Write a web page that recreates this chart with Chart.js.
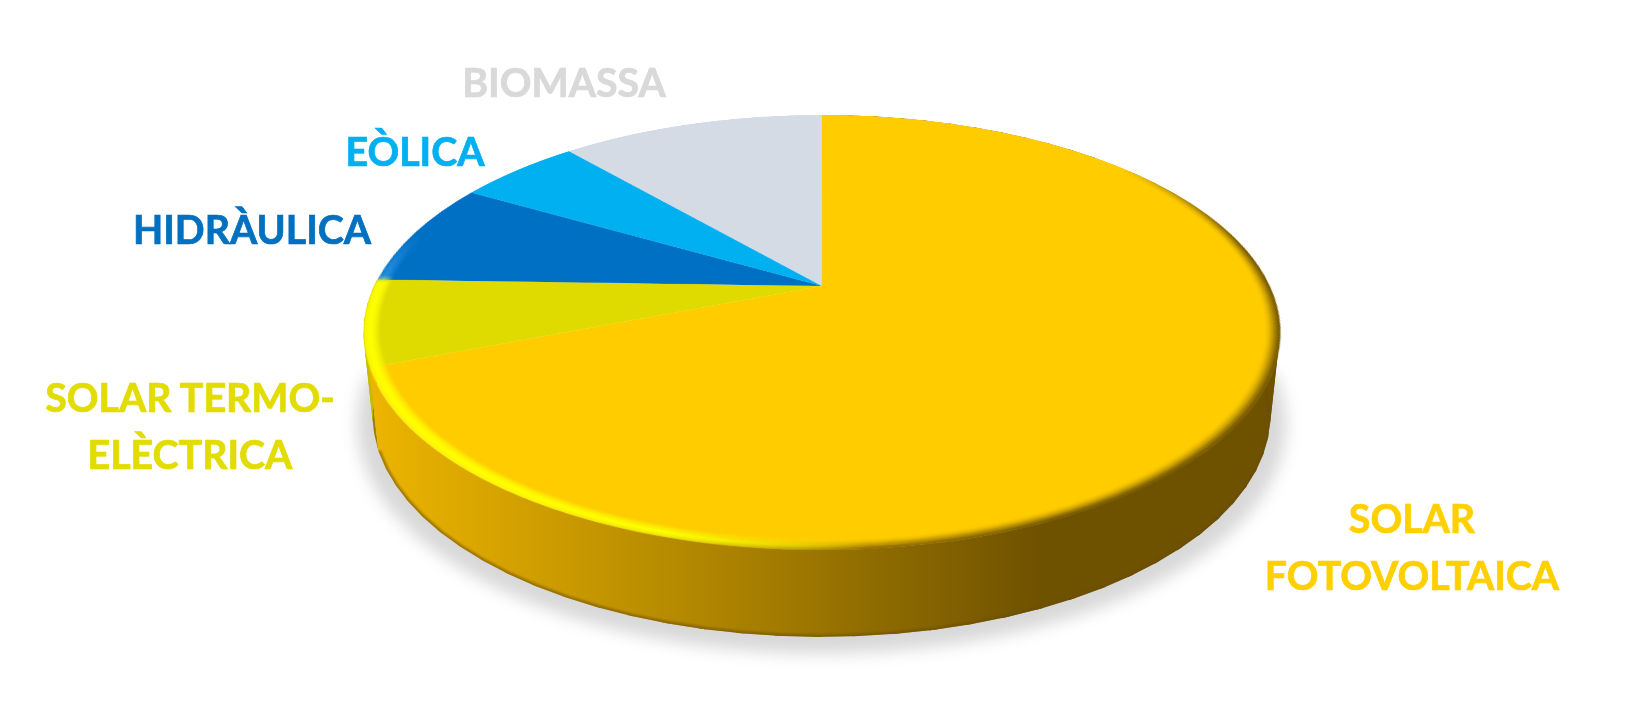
<!DOCTYPE html>
<html>
<head>
<meta charset="utf-8">
<script src="https://cdn.jsdelivr.net/npm/chart.js@4/dist/chart.umd.min.js"></script>
<style>
  html, body { margin: 0; padding: 0; background: #fff; }
  #page { position: relative; width: 1635px; height: 703px; overflow: hidden; }
  #wall { position: absolute; left: 0; top: 0; }
  #pieBox { position: absolute; width: 760px; height: 760px; }
  .lbl { position: absolute; font-family: Lato, sans-serif; font-weight: 700; font-size: 39.3px;
         line-height: 57px; white-space: nowrap; text-align: center; transform: translateX(-50%);
         -webkit-text-stroke: 0.7px currentColor; }
</style>
</head>
<body>
<div id="page">
  <canvas id="wall" width="1635" height="703"></canvas>
  <div id="pieBox"><canvas id="pie" width="760" height="760"></canvas></div>
</div>
<script>
var categories = ["SOLAR FOTOVOLTAICA", "SOLAR TERMO-ELÈCTRICA", "HIDRÀULICA", "EÒLICA", "BIOMASSA"];
var shares = [69.1, 6.4, 7.8, 5.3, 11.4];
var sliceColors = ["#FFCC00", "#DFDB00", "#0070C5", "#00B0F0", "#D4DBE5"];
var labelColors = ["#FFD000", "#E2DC00", "#0070C0", "#00B0F0", "#D9D9D9"];
var labelLines = [["SOLAR", "FOTOVOLTAICA"], ["SOLAR TERMO-", "ELÈCTRICA"], ["HIDRÀULICA"], ["EÒLICA"], ["BIOMASSA"]];
var labelPlaces = [[1412, 489], [190, 368], [252, 200], [415, 122], [564, 53]];

// tilted view of the pie: where the apex lands and how the circle gets squashed
var apexX = 821.5, apexY = 286;
var persp = -0.2138, scaleY = 207.6, scaleX = 447.5;
var rimMidY = 332.5, footMidY = 415, footScaleX = 0.98, footScaleY = 1.02;

var box = document.getElementById("pieBox");
box.style.left = (apexX - 380) + "px";
box.style.top = (apexY - 380) + "px";

function ring(ctx, el, band, style, profile) {
  var n = 14, R = el.outerRadius;
  ctx.strokeStyle = style;
  ctx.lineWidth = band / n + 0.6;
  for (var i = 0; i < n; i++) {
    var t = (i + 0.5) / n;
    ctx.globalAlpha = profile(t);
    ctx.beginPath();
    ctx.arc(el.x, el.y, R - band * (1 - t), 0, Math.PI * 2);
    ctx.stroke();
  }
}

// bevel along the rim of the top face
var rimBevel = {
  id: "rimBevel",
  afterDatasetsDraw: function(chart) {
    var el = chart.getDatasetMeta(0).data[0];
    var ctx = chart.ctx;
    var band = el.outerRadius * 0.034;
    var deg = Math.PI / 180;

    var dark = ctx.createConicGradient(-40 * deg, el.x, el.y);
    dark.addColorStop(0, "rgba(111,82,0,0)");
    dark.addColorStop(30 / 360, "rgba(111,82,0,0.95)");
    dark.addColorStop(105 / 360, "rgba(111,82,0,1)");
    dark.addColorStop(130 / 360, "rgba(143,107,0,0.9)");
    dark.addColorStop(150 / 360, "rgba(180,140,0,0.7)");
    dark.addColorStop(165 / 360, "rgba(200,150,0,0)");
    dark.addColorStop(1, "rgba(111,82,0,0)");

    var light = ctx.createConicGradient(85 * deg, el.x, el.y);
    light.addColorStop(0, "rgba(255,255,0,0)");
    light.addColorStop(22 / 360, "rgba(255,255,0,1)");
    light.addColorStop(96 / 360, "rgba(255,255,0,1)");
    light.addColorStop(98 / 360, "rgba(90,180,255,0.3)");
    light.addColorStop(110 / 360, "rgba(90,180,255,0)");
    light.addColorStop(1, "rgba(255,255,0,0)");

    ctx.save();
    ring(ctx, el, band, dark, function(t) { return t * t; });
    ring(ctx, el, band, light, function(t) { return t < 0.6 ? t / 0.6 : 1 - (t - 0.6) * 1.2; });
    ctx.restore();
  }
};

var pieChart = new Chart(document.getElementById("pie"), {
  type: "pie",
  data: {
    labels: categories,
    datasets: [{ data: shares, backgroundColor: sliceColors, borderWidth: 0 }]
  },
  options: {
    responsive: false,
    animation: false,
    devicePixelRatio: 1,
    layout: { padding: 20 },
    plugins: { legend: { display: false }, tooltip: { enabled: false } }
  },
  plugins: [rimBevel]
});

var arcs = pieChart.getDatasetMeta(0).data;
var outerR = arcs[0].outerRadius;
var pieCanvas = pieChart.canvas;
pieCanvas.style.transformOrigin = arcs[0].x + "px " + arcs[0].y + "px";
pieCanvas.style.transform = "matrix3d(" + [
  scaleX / outerR, 0, 0, 0,
  0, scaleY / outerR, 0, persp / outerR,
  0, 0, 1, 0,
  0, 0, 0, 1
].join(",") + ")";

function rimPoint(angle) {
  var w = 1 + persp * Math.sin(angle);
  return [apexX + scaleX * Math.cos(angle) / w, apexY + scaleY * Math.sin(angle) / w];
}
function footPoint(angle) {
  var p = rimPoint(angle);
  return [apexX + (p[0] - apexX) * footScaleX, footMidY + (p[1] - rimMidY) * footScaleY];
}
function tracePath(ctx, pts) {
  ctx.beginPath();
  pts.forEach(function(p, i) { if (i) ctx.lineTo(p[0], p[1]); else ctx.moveTo(p[0], p[1]); });
}

// side wall and shadow, below the tilted pie
function drawWall() {
  var ctx = document.getElementById("wall").getContext("2d");
  var step = 4 * Math.PI / 180;
  var a, foot = [];
  for (a = 0; a <= Math.PI + 0.01; a += step) foot.push(footPoint(a));

  // only the lower half, so the blur fades out softly at its top
  ctx.save();
  ctx.filter = "blur(8px)";
  ctx.fillStyle = "#D8D8D8";
  tracePath(ctx, foot.map(function(p) {
    return [apexX + (p[0] - apexX) * 1.035, footMidY + (p[1] - footMidY) * 1.035 + 9];
  }));
  ctx.fill();
  ctx.restore();

  [1, 0].forEach(function(idx) {
    var el = arcs[idx], back = [];
    if (idx === 1) {
      ctx.fillStyle = "#C4BC00";
    } else {
      var g = ctx.createLinearGradient(370, 0, 1040, 0);
      g.addColorStop(0, "#EDB500");
      g.addColorStop(0.5, "#B08600");
      g.addColorStop(1, "#6F5200");
      ctx.fillStyle = g;
    }
    // one quad per step, overlapping, so the outline bridges rim and foot
    for (a = el.startAngle; a < el.endAngle; a += step) {
      var b = Math.min(a + step * 1.2, el.endAngle);
      tracePath(ctx, [rimPoint(a), rimPoint(b), footPoint(b), footPoint(a)]);
      ctx.fill();
      back.push(footPoint(a));
    }
    back.push(footPoint(el.endAngle));

    ctx.save();
    tracePath(ctx, back.concat([rimPoint(el.endAngle), rimPoint(el.startAngle)]));
    ctx.clip();
    tracePath(ctx, back);
    ctx.strokeStyle = "rgba(105,75,0,0.55)";
    ctx.lineWidth = 5;
    ctx.filter = "blur(1px)";
    ctx.stroke();
    ctx.restore();
  });
}
drawWall();

labelLines.forEach(function(lines, i) {
  var d = document.createElement("div");
  d.className = "lbl";
  d.style.left = labelPlaces[i][0] + "px";
  d.style.top = labelPlaces[i][1] + "px";
  d.style.color = labelColors[i];
  d.innerHTML = lines.join("<br>");
  document.getElementById("page").appendChild(d);
});
</script>
</body>
</html>
